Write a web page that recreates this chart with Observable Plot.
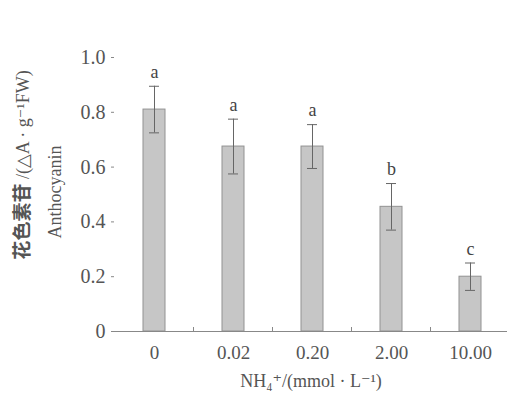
<!DOCTYPE html>
<html>
<head>
<meta charset="utf-8">
<script src="https://cdn.jsdelivr.net/npm/d3@7"></script>
<script src="https://cdn.jsdelivr.net/npm/@observablehq/plot@0.6"></script>
<style>
body{margin:0;background:#fff;}
</style>
</head>
<body>
<div id="chart"></div>
<script>
const categories = ["0", "0.02", "0.20", "2.00", "10.00"];
const values = [0.81, 0.675, 0.675, 0.455, 0.20];
const errors = [0.085, 0.10, 0.08, 0.085, 0.05];
const letters = ["a", "a", "a", "b", "c"];
const yTicks = [0, 0.2, 0.4, 0.6, 0.8, 1.0];
const yTickLabels = ["0", "0.2", "0.4", "0.6", "0.8", "1.0"];

const data = categories.map((c, i) => ({c, v: values[i], e: errors[i], l: letters[i]}));
const font = "'Liberation Serif', 'DejaVu Serif', serif";

const plot = Plot.plot({
  width: 507,
  height: 404,
  marginLeft: 114,
  marginRight: 0,
  marginTop: 57,
  marginBottom: 73,
  style: {fontFamily: font, fontSize: "18px", color: "#555", background: "white"},
  x: {domain: categories, range: [114, 510], paddingInner: 0.72, paddingOuter: 0.36, label: null},
  y: {domain: [0, 1], label: null},
  marks: [
    Plot.barY(data, {x: "c", y: "v", fill: "#c6c6c6", stroke: "#929292", strokeWidth: 1}),
    Plot.ruleX(data, {x: "c", y1: d => d.v - d.e, y2: d => d.v + d.e, stroke: "#666", strokeWidth: 1}),
    Plot.tickY(data, {x: "c", y: d => d.v + d.e, stroke: "#666", strokeWidth: 1, inset: 6}),
    Plot.tickY(data, {x: "c", y: d => d.v - d.e, stroke: "#666", strokeWidth: 1, inset: 6}),
    Plot.text(data, {x: "c", y: d => d.v + d.e, text: "l", dy: -14, fontSize: 18, fill: "#444"}),
    Plot.axisY({ticks: yTicks, tickFormat: (d, i) => yTickLabels[i], tickSize: 3, tickPadding: 6, stroke: "#888", fill: "#555", fontSize: 20, letterSpacing: "0.5px"}),
    Plot.ruleX([0], {frameAnchor: "left", stroke: "#888"}),
    Plot.ruleY([0], {stroke: "#888"}),
    Plot.axisX({tickSize: 0, tickPadding: 14, fill: "#555", fontSize: 19}),
    Plot.text([0], {frameAnchor: "bottom", dy: 55, text: () => "NH₄⁺/(mmol · L⁻¹)", fontSize: 18, fill: "#555"})
  ]
});

const svg = d3.select(plot);
// minor ticks between bars on the x axis
const xs = plot.scale("x");
const yScale = plot.scale("y");
const y0 = yScale.apply(0);
categories.slice(1).forEach(c => {
  const xb = xs.apply(c) - (xs.step - xs.bandwidth) / 2;
  svg.append("line").attr("x1", xb).attr("x2", xb).attr("y1", y0).attr("y2", y0 - 4).attr("stroke", "#888");
});
// y axis titles
const t1 = svg.append("text")
  .attr("transform", "translate(29,165) rotate(-90)")
  .attr("text-anchor", "middle")
  .attr("font-size", 18)
  .attr("fill", "#555");
t1.append("tspan").attr("font-family", "'Noto Sans CJK SC'").attr("font-weight", "bold").attr("font-size", 19).text("花色素苷");
t1.append("tspan").attr("font-family", font).text(" /(△A · g⁻¹FW)");
svg.append("text")
  .attr("transform", "translate(61,192) rotate(-90)")
  .attr("text-anchor", "middle")
  .attr("font-family", font)
  .attr("font-size", 18)
  .attr("fill", "#555")
  .text("Anthocyanin");

document.getElementById("chart").append(plot);
</script>
</body>
</html>
